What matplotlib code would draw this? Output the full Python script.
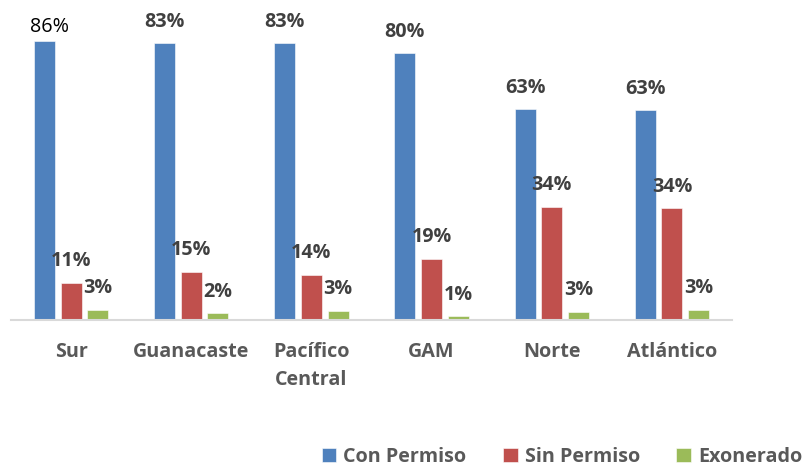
import numpy as np
import matplotlib
matplotlib.use('Agg')
import matplotlib.pyplot as plt

plt.rcParams['font.family'] = ['Open Sans', 'DejaVu Sans']

regiones = ['Sur', 'Guanacaste', 'Pacífico\nCentral', 'GAM', 'Norte', 'Atlántico']
series = ['Con Permiso', 'Sin Permiso', 'Exonerado']
# bar heights (%)
con_permiso = [86, 85.3, 85.3, 82.2, 64.9, 64.6]
sin_permiso = [11.5, 14.9, 13.9, 18.9, 34.9, 34.4]
exonerado = [3.1, 2.1, 2.8, 1.2, 2.5, 3.1]
# data labels as printed on the chart
lab_con = ['86%', '83%', '83%', '80%', '63%', '63%']
lab_sin = ['11%', '15%', '14%', '19%', '34%', '34%']
lab_exo = ['3%', '2%', '3%', '1%', '3%', '3%']

colores = ['#4F81BD', '#C0504D', '#9BBB59']
texto = '#404040'
gris = '#595959'
fs = 14.2

fig = plt.figure(figsize=(8.04, 4.67), dpi=100)
ax = fig.add_axes([11/804, 147/467, 721/804, 300/467])

x = np.arange(len(regiones))
w = 0.175
off = 0.222
datos = [con_permiso, sin_permiso, exonerado]
etiquetas = [lab_con, lab_sin, lab_exo]
for i in range(3):
    pos = x + (i - 1) * off
    ax.bar(pos, datos[i], width=w, color=colores[i], label=series[i],
           edgecolor='white', linewidth=0.4)
    for j in range(len(regiones)):
        if i == 0 and j == 0:
            # first label sits lower and is not bold in the original
            ax.annotate(lab_con[0], (pos[j], datos[i][j]), xytext=(3.5, 6.7),
                        textcoords='offset points', ha='center', va='baseline',
                        fontsize=fs, color='black', annotation_clip=False)
        else:
            ax.annotate(etiquetas[i][j], (pos[j], datos[i][j]), xytext=(0, 11.9),
                        textcoords='offset points', ha='center', va='baseline',
                        fontsize=fs, fontweight='bold', color=texto,
                        annotation_clip=False)

ax.set_xlim(-0.5, len(regiones) - 0.5)
ax.set_ylim(0, 300 / 3.244)
ax.set_xticks(x)
ax.set_xticklabels(regiones, fontsize=fs, fontweight='bold', color=gris,
                   linespacing=1.5)
ax.tick_params(axis='x', length=0, pad=16)
ax.set_yticks([])
for s in ['top', 'right', 'left']:
    ax.spines[s].set_visible(False)
ax.spines['bottom'].set_color('#D9D9D9')
ax.spines['bottom'].set_linewidth(1.5)

leg = fig.legend(loc='lower right', bbox_to_anchor=(1.02, -0.038), ncol=3,
                 frameon=False, handlelength=0.75, handleheight=0.75,
                 handletextpad=0.35, columnspacing=1.85,
                 prop={'size': fs, 'weight': 'bold'})
for t in leg.get_texts():
    t.set_color(gris)

fig.savefig('out.png', dpi=100)
